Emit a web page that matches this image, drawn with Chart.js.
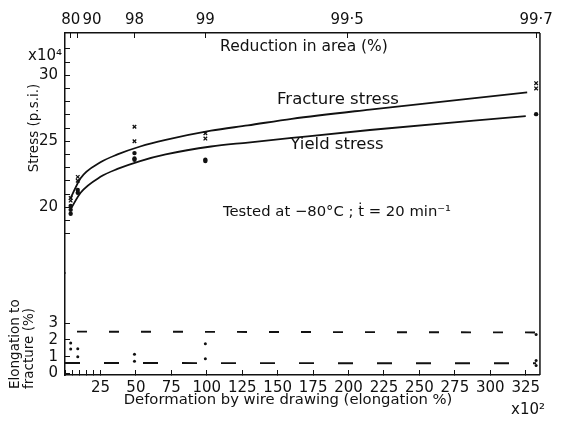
<!DOCTYPE html>
<html><head><meta charset="utf-8">
<script src="https://cdn.jsdelivr.net/npm/chart.js@4.4.1/dist/chart.umd.min.js"></script>
<style>html,body{margin:0;padding:0;background:#fff}#wrap{width:562px;height:422px;position:relative}</style>
</head><body><div id="wrap"><canvas id="c" width="562" height="422" style="width:562px;height:422px"></canvas></div>
<script>
// ---- data ----
const deformationTicks = [0,5,10,15,20,25,50,75,100,125,150,175,200,225,250,275,300,325];
const reductionPct = [80, 90, 98, 99, 99.5, 99.7];
const reductionLabels = ['80', '      90', '98', '99', '99·5', '99·7'];
const stressTicks = [18,19,20,21,22,23,24,25,26,27,28,29,30,31,32];
const stressLabelled = [20, 25, 30];
const elongTicks = [0, 1, 2, 3];

const fractureCurveE      = [4, 11, 25, 37, 53, 71, 103, 129, 160, 215, 326];
const fractureCurveStress = [20.7, 22.2, 23.4, 24.0, 24.6, 25.1, 25.8, 26.2, 26.7, 27.4, 28.7];
const yieldCurveE         = [4, 11, 25, 37, 53, 71, 103, 129, 160, 215, 325];
const yieldCurveStress    = [19.85, 21.1, 22.3, 22.9, 23.5, 24.0, 24.6, 24.9, 25.25, 25.85, 26.9];

const fractureE      = [4, 4, 9, 9, 49, 49, 99, 99, 332.3, 332.3];
const fractureStress = [20.7, 20.5, 22.3, 22.0, 26.1, 25.0, 25.6, 25.2, 29.4, 29.0];
const yieldE         = [4, 4, 4, 9, 9, 49, 49, 49, 99, 99, 332.3];
const yieldStress    = [20.1, 19.8, 19.5, 21.3, 21.1, 24.1, 23.7, 23.6, 23.6, 23.5, 27.05];

const elongE   = [4, 4, 9, 9, 49, 49, 99, 99, 332.3, 332.3, 332.3];
const elongPct = [1.81, 1.46, 1.47, 0.99, 1.15, 0.73, 1.77, 0.87, 2.33, 0.77, 0.47];
const upperBandE = [0, 332.3];
const upperBand  = [2.5, 2.45];
const lowerBandE = [0, 332.3];
const lowerBand  = [0.62, 0.6];

// ---- helpers ----
const zip = (xs, ys) => xs.map((x, i) => ({x: x, y: ys[i]}));
const INK = '#111';
const FONT = 'DejaVu Sans';

const gridOpts = {drawOnChartArea: false, drawTicks: true, tickLength: -5, color: INK, lineWidth: 1};
const borderOpts = {display: true, color: INK, width: 1.5};

const textPlugin = {
  id: 'texts',
  afterDraw(chart) {
    const ctx = chart.ctx, a = chart.chartArea;
    ctx.save();
    ctx.strokeStyle = INK; ctx.lineWidth = 1.5;
    ctx.beginPath(); ctx.moveTo(a.right, a.top); ctx.lineTo(a.right, a.bottom); ctx.stroke();
    ctx.fillStyle = INK;
    ctx.textBaseline = 'middle';
    const put = (t, x, y, size, align) => {
      ctx.font = size + 'px "' + FONT + '"';
      ctx.textAlign = align || 'center';
      ctx.fillText(t, x, y);
    };
    put('x10⁴', 62, 56, 15, 'right');
    put('Reduction in area (%)', 304, 47, 15.5);
    put('Fracture stress', 338, 100, 16.5);
    put('Yield stress', 337, 145, 16.5);
    put('Tested at −80°C ; ṫ = 20 min⁻¹', 337, 212, 14.8);
    put('Deformation by wire drawing (elongation %)', 288, 400, 14.8);
    put('x10²', 528, 410, 15);
    ctx.save();
    ctx.translate(34, 128); ctx.rotate(-Math.PI / 2);
    put('Stress (p.s.i.)', 0, 0, 13.5);
    ctx.restore();
    ctx.save();
    ctx.translate(15, 389); ctx.rotate(-Math.PI / 2);
    put('Elongation to', 0, 0, 13.5, 'left');
    ctx.restore();
    ctx.save();
    ctx.translate(29, 389); ctx.rotate(-Math.PI / 2);
    put('fracture (%)', 0, 0, 13.5, 'left');
    ctx.restore();
    ctx.restore();
  }
};

Chart.defaults.font.family = FONT;
Chart.defaults.color = INK;

new Chart(document.getElementById('c'), {
  type: 'scatter',
  data: {
    datasets: [
      {label: 'Fracture stress curve', type: 'line', data: zip(fractureCurveE, fractureCurveStress),
       xAxisID: 'x', yAxisID: 'yS', borderColor: INK, borderWidth: 1.8, pointRadius: 0,
       cubicInterpolationMode: 'monotone', fill: false},
      {label: 'Yield stress curve', type: 'line', data: zip(yieldCurveE, yieldCurveStress),
       xAxisID: 'x', yAxisID: 'yS', borderColor: INK, borderWidth: 1.8, pointRadius: 0,
       cubicInterpolationMode: 'monotone', fill: false},
      {label: 'Fracture stress', data: zip(fractureE, fractureStress), xAxisID: 'x', yAxisID: 'yS',
       pointStyle: 'crossRot', pointRadius: 2.5, borderColor: INK, borderWidth: 1.3, backgroundColor: INK},
      {label: 'Yield stress', data: zip(yieldE, yieldStress), xAxisID: 'x', yAxisID: 'yS',
       pointStyle: 'circle', pointRadius: 2.2, borderColor: INK, borderWidth: 0, backgroundColor: INK},
      {label: 'Elongation to fracture', data: zip(elongE, elongPct), xAxisID: 'x', yAxisID: 'yE',
       pointStyle: 'circle', pointRadius: 1.5, borderWidth: 0, backgroundColor: INK},
      {label: 'Upper band', type: 'line', data: zip(upperBandE, upperBand), xAxisID: 'x', yAxisID: 'yE',
       borderColor: INK, borderWidth: 1.9, borderDash: [10, 22], borderDashOffset: 20, pointRadius: 0, fill: false},
      {label: 'Lower band', type: 'line', data: zip(lowerBandE, lowerBand), xAxisID: 'x', yAxisID: 'yE',
       borderColor: INK, borderWidth: 1.9, borderDash: [15, 24], pointRadius: 0, fill: false}
    ]
  },
  options: {
    responsive: false,
    animation: false,
    devicePixelRatio: 1,
    layout: {padding: {left: 0, right: 17, top: 0, bottom: 0}},
    plugins: {legend: {display: false}, tooltip: {enabled: false}},
    scales: {
      yE: {
        type: 'linear', position: 'left', stack: 'left', stackWeight: 101.8,
        min: -0.1, max: 6.0,
        afterBuildTicks: s => { s.ticks = elongTicks.map(v => ({value: v})); },
        afterFit: s => { s.width = 65; },
        ticks: {autoSkip: false, padding: 12, font: {size: 15}, color: INK},
        grid: gridOpts, border: borderOpts
      },
      yS: {
        type: 'linear', position: 'left', stack: 'left', stackWeight: 240.2,
        min: 15, max: 33.2,
        afterBuildTicks: s => { s.ticks = stressTicks.map(v => ({value: v})); },
        afterFit: s => { s.width = 65; },
        ticks: {autoSkip: false, padding: 12, font: {size: 15}, color: INK,
                callback: v => stressLabelled.includes(v) ? String(v) : ''},
        grid: gridOpts, border: borderOpts
      },
      x: {
        type: 'linear', position: 'bottom', min: 0, max: 335,
        afterBuildTicks: s => { s.ticks = deformationTicks.map(v => ({value: v})); },
        afterFit: s => { s.height = 47; },
        ticks: {autoSkip: false, maxRotation: 0, padding: 9, font: {size: 15}, color: INK,
                callback: v => (v > 0 && v % 25 === 0) ? String(v) : ''},
        grid: gridOpts, border: borderOpts
      },
      x2: {
        type: 'linear', position: 'top', min: 0, max: 335,
        afterBuildTicks: s => { s.ticks = reductionPct.map(r => ({value: r / (100 - r)})); },
        afterFit: s => { s.height = 33; },
        ticks: {autoSkip: false, maxRotation: 0, padding: 9, font: {size: 15}, color: INK,
                callback: (v, i) => reductionLabels[i]},
        grid: gridOpts, border: borderOpts
      }
    }
  },
  plugins: [textPlugin]
});
</script>
</body></html>
